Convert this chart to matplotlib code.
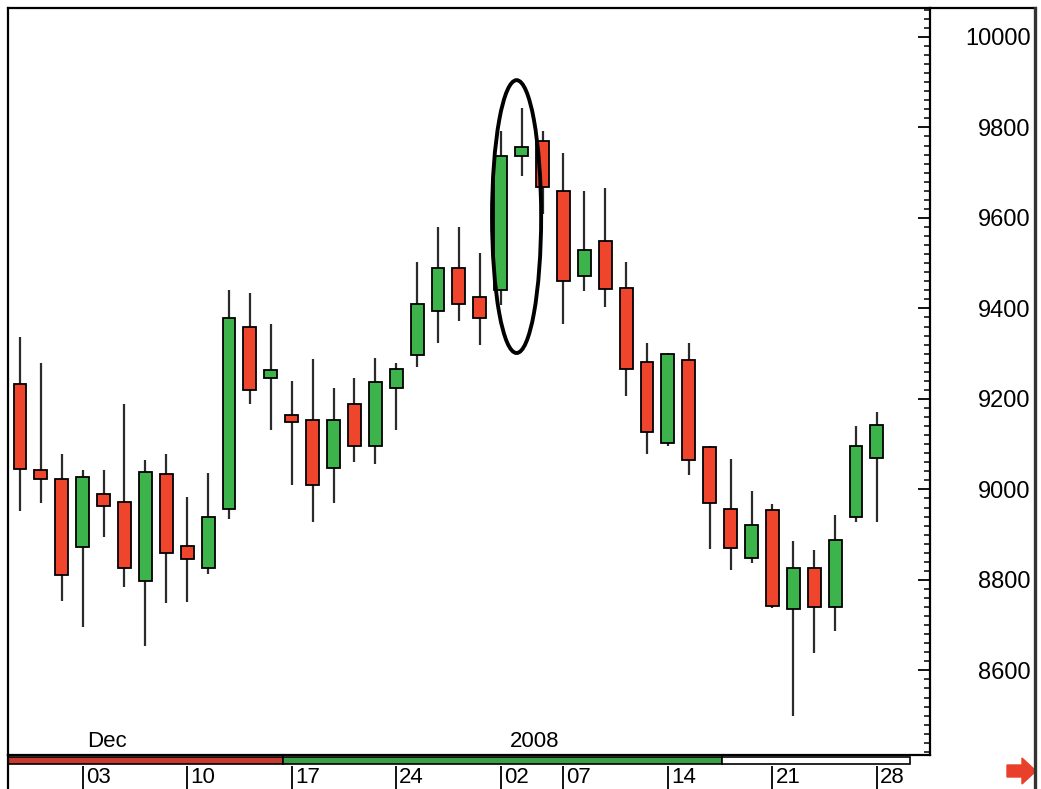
import matplotlib
matplotlib.use("Agg")
import numpy as np
from matplotlib import pyplot as plt
from matplotlib.patches import Ellipse, Polygon
from matplotlib.lines import Line2D
from matplotlib.ticker import MultipleLocator

plt.rcParams['font.family'] = ['Liberation Sans', 'DejaVu Sans']

# daily candles, late Nov 2007 - end Jan 2008
opens  = [9233, 9043, 9023, 8872, 8989, 8973, 8798, 9034, 8876, 8826,
          8956, 9358, 9247, 9165, 9154, 9047, 9189, 9097, 9224, 9297,
          9395, 9490, 9426, 9441, 9737, 9769, 9660, 9472, 9548, 9445,
          9282, 9103, 9286, 9093, 8957, 8849, 8955, 8736, 8826, 8740,
          8940, 9069]
highs  = [9337, 9279, 9078, 9043, 9043, 9189, 9065, 9078, 8984, 9036,
          9441, 9434, 9365, 9240, 9288, 9224, 9246, 9290, 9279, 9503,
          9581, 9581, 9522, 9793, 9844, 9793, 9743, 9660, 9666, 9503,
          9323, 9301, 9323, 9096, 9067, 8997, 8967, 8885, 8865, 8944,
          9141, 9172]
lows   = [8953, 8970, 8754, 8695, 8894, 8784, 8655, 8748, 8752, 8813,
          8934, 9189, 9131, 9010, 8929, 8971, 9061, 9056, 9131, 9271,
          9323, 9372, 9319, 9407, 9693, 9609, 9365, 9439, 9404, 9207,
          9078, 9097, 9032, 8868, 8821, 8837, 8737, 8499, 8638, 8686,
          8929, 8929]
closes = [9045, 9022, 8811, 9027, 8964, 8826, 9038, 8859, 8846, 8938,
          9378, 9220, 9264, 9150, 9010, 9154, 9097, 9238, 9267, 9409,
          9490, 9409, 9378, 9737, 9756, 9669, 9460, 9529, 9443, 9266,
          9126, 9299, 9064, 8971, 8871, 8922, 8743, 8826, 8740, 8888,
          9097, 9143]

tick_pos = [3, 8, 13, 18, 23, 26, 31, 36, 41]
tick_lab = ['03', '10', '17', '24', '02', '07', '14', '21', '28']
month_pos = [4.16, 24.64]
month_lab = ['Dec', '2008']
band_edges = [-0.574, 12.58, 33.6, 42.58]
band_cols = ['#c8392e', '#3c9e48', 'white']

W, H = 1041, 789
def fx(p): return p / W
def fy(p): return 1 - p / H

fig = plt.figure(figsize=(W / 100, H / 100), dpi=100)
ax = fig.add_axes([fx(8), fy(755), fx(930) - fx(8), fy(8) - fy(755)])

x = np.arange(len(opens))
o = np.array(opens); c = np.array(closes)
up = c >= o
cols = np.where(up, '#3db44b', '#ee452c')

ax.vlines(x, lows, highs, color='#2b2b2b', lw=1.6, zorder=1)
ax.bar(x, np.abs(c - o), bottom=np.minimum(o, c), width=0.62,
       color=cols, edgecolor='black', linewidth=1.3, zorder=2)

ax.add_patch(Ellipse((23.76, 9603), 2.35, 603, fill=False, lw=2.8,
                     edgecolor='black', zorder=3))

ax.set_xlim(-0.574, 43.54)
ax.set_ylim(8413, 10064)
ax.set_xticks([])
ax.yaxis.tick_right()
yt = list(range(8600, 10001, 200))
ax.set_yticks(yt)
ax.set_yticklabels([str(v) for v in yt], ha='right')
ax.yaxis.set_minor_locator(MultipleLocator(20))
ax.tick_params(axis='y', which='major', direction='in', length=9,
               width=1.3, pad=72.5, labelsize=17, colors='black')
ax.tick_params(axis='y', which='minor', direction='in', length=4, width=1.1)
for s in ax.spines.values():
    s.set_linewidth(1.6)

for p, t in zip(month_pos, month_lab):
    ax.text(p, 0.004, t, transform=ax.get_xaxis_transform(),
            ha='center', va='bottom', fontsize=16)

# date strip under the chart
bx = fig.add_axes([fx(8), 0, fx(930) - fx(8), fy(755)])
bx.set_xlim(ax.get_xlim())
bx.set_ylim(0, 1)
bx.axis('off')
lefts = band_edges[:-1]
widths = np.diff(band_edges)
bx.barh([0.84] * 3, widths, left=lefts, height=0.19, color=band_cols,
        edgecolor='black', linewidth=1.2)
bx.vlines(tick_pos, 0, 0.69, color='black', lw=1.3)
for p, t in zip(tick_pos, tick_lab):
    bx.text(p + 0.15, 0.33, t, ha='left', va='center', fontsize=16)

# outer frame bits and arrow
fig.add_artist(Line2D([fx(930), fx(1035)], [fy(8), fy(8)], color='black', lw=1.6))
fig.add_artist(Line2D([fx(1035), fx(1035)], [fy(8), 0], color='#333333', lw=2.4))
fig.add_artist(Line2D([fx(8), fx(8)], [fy(755), 0], color='black', lw=1.6))
arrow = [(1007, 765), (1022, 765), (1022, 758), (1036, 771),
         (1022, 784), (1022, 777), (1007, 777)]
fig.add_artist(Polygon([(fx(a), fy(b)) for a, b in arrow], closed=True,
                       color='#e8402a', transform=fig.transFigure))

fig.savefig('out.png', dpi=100)
